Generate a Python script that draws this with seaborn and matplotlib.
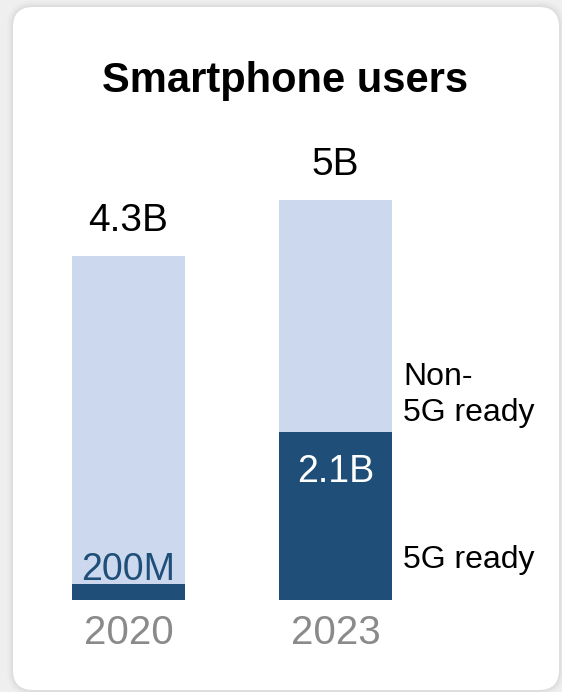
import matplotlib
matplotlib.use("Agg")
import matplotlib.pyplot as plt
import seaborn as sns
import pandas as pd
from matplotlib.patches import FancyBboxPatch

# Smartphone users, in billions
years = ["2020", "2023"]
total_users = [4.3, 5.0]
ready_users = [0.2, 2.1]
total_labels = ["4.3B", "5B"]
ready_labels = ["200M", "2.1B"]
series_names = ["Non-\n5G ready", "5G ready"]
title = "Smartphone users"

LIGHT = "#cbd8ee"
DARK = "#1f4e79"
YEAR_GREY = "#8a8a8a"
W, H, DPI = 562, 692, 100

sns.set_theme(style="white")
plt.rcParams["font.family"] = ["Liberation Sans", "DejaVu Sans"]

fig = plt.figure(figsize=(W / DPI, H / DPI), dpi=DPI, facecolor="#efefef")

# white rounded card with a soft shadow (positions in inches)
cx, cy, cw, ch = 0.13, 0.02, 5.46, 6.83
for grow, alpha in [(0.06, 0.015), (0.04, 0.02), (0.02, 0.03)]:
    fig.patches.append(FancyBboxPatch(
        (cx - grow, cy - grow), cw + 2 * grow, ch + 2 * grow,
        boxstyle=f"round,pad=0,rounding_size={0.2 + grow}",
        transform=fig.dpi_scale_trans, facecolor="black", alpha=alpha,
        edgecolor="none", zorder=-3))
fig.patches.append(FancyBboxPatch(
    (cx, cy), cw, ch, boxstyle="round,pad=0,rounding_size=0.2",
    transform=fig.dpi_scale_trans, facecolor="white", edgecolor="none",
    zorder=-2))

df = pd.DataFrame({"year": years, "total": total_users, "ready": ready_users})

ax = fig.add_axes([25 / W, 92 / H, 414 / W, 480 / H])
ax.set_zorder(1)
ax.set_facecolor("none")
bar_w = 0.546
sns.barplot(data=df, x="year", y="total", order=years, color=LIGHT,
            saturation=1, width=bar_w, linewidth=0, ax=ax)
sns.barplot(data=df, x="year", y="ready", order=years, color=DARK,
            saturation=1, width=bar_w, linewidth=0, ax=ax)
ax.set_xlim(-0.5, 1.5)
ax.set_ylim(0, 6)
ax.set_xlabel("")
ax.set_ylabel("")
ax.set_yticks([])
for s in ax.spines.values():
    s.set_visible(False)
ax.tick_params(axis="x", length=0, pad=10, labelsize=29, labelcolor=YEAR_GREY)

# totals above each bar
for i, (v, lab) in enumerate(zip(total_users, total_labels)):
    ax.annotate(lab, xy=(i, v), xytext=(0, 18), textcoords="offset points",
                ha="center", va="baseline", fontsize=28, color="black")

# 5G-ready values inside the dark segment, or just above it when too short
for i, (v, lab) in enumerate(zip(ready_users, ready_labels)):
    if v > 1:
        ax.annotate(lab, xy=(i, v), xytext=(0, -36), textcoords="offset points",
                    ha="center", va="baseline", fontsize=27, color="white")
    else:
        ax.annotate(lab, xy=(i, v), xytext=(0, 3), textcoords="offset points",
                    ha="center", va="baseline", fontsize=27, color=DARK)

# series names next to the 2023 bar
fig.text(403 / W, 1 - 362 / H, series_names[0], ha="left", va="top",
         fontsize=23, color="black", linespacing=1.25)
fig.text(403 / W, 1 - 568 / H, series_names[1], ha="left", va="baseline",
         fontsize=23, color="black")

fig.text(285 / W, 1 - 92 / H, title, ha="center", va="baseline",
         fontsize=30, fontweight="bold", color="black")

fig.savefig("out.png", dpi=DPI, facecolor=fig.get_facecolor())
